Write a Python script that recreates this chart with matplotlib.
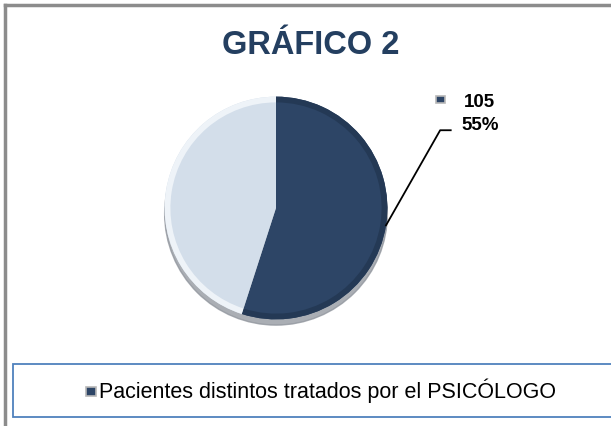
import numpy as np
import matplotlib
matplotlib.use("Agg")
import matplotlib.pyplot as plt
from matplotlib.patches import Rectangle, Circle
from matplotlib.lines import Line2D

# data
categories = ["Pacientes distintos tratados por el PSICÓLOGO", "Resto"]
values = [105, 86]
colors = ["#2d4566", "#d3deea"]
rim_colors = ["#243955", "#eef3f8"]
title = "GRÁFICO 2"

W, H = 611, 427
fig = plt.figure(figsize=(W / 100, H / 100), dpi=100)
fig.patch.set_facecolor("white")

def px(x, y):
    # pixel coords (top-left origin) -> figure fraction
    return x / W, 1 - y / H

# outer chart border (grey, top and left visible)
fig.add_artist(Line2D([5 / W, 1], [1 - 6 / H] * 2, transform=fig.transFigure,
                      color="#8c8c8c", lw=2.5))
fig.add_artist(Line2D([5 / W] * 2, [0, 1 - 6 / H], transform=fig.transFigure,
                      color="#8c8c8c", lw=2.5))

fig.text(*px(311, 45), title, ha="center", va="center", fontsize=23.5,
         fontweight="bold", color="#243f60", family="Liberation Sans")

# pie axes: centre (276, 209) px, 100 px per data unit
cx, cy = 276, 209
ax = fig.add_axes([(cx - 120) / W, (H - cy - 120) / H, 240 / W, 240 / H])
ax.set_xlim(-1.2, 1.2)
ax.set_ylim(-1.2, 1.2)
ax.set_aspect("equal")
ax.axis("off")

r = 1.16
ax.add_patch(Circle((0.0, -0.06), r, color="#8e939b", alpha=0.75, zorder=0))
wedges, _ = ax.pie(values, colors=colors, startangle=90, counterclock=False,
                   radius=r, wedgeprops=dict(linewidth=0))
# subtle rim shading
ax.pie(values, colors=rim_colors, startangle=90, counterclock=False, radius=r,
       wedgeprops=dict(width=0.06, linewidth=0))

# leader line and label for the first slice
w0 = wedges[0]
mid = np.deg2rad((w0.theta1 + w0.theta2) / 2)
p0 = (r * np.cos(mid), r * np.sin(mid))
elbow = ((447 - cx) / 100, (cy - 128) / 100)
end = ((458 - cx) / 100, (cy - 128) / 100)
ax.plot([p0[0], elbow[0], end[0]], [p0[1], elbow[1], end[1]], color="black",
        lw=1.3, clip_on=False, zorder=3)
pct = values[0] / sum(values) * 100
ax.text((504 - cx) / 100, (cy - 98) / 100, f"{values[0]}", ha="right", va="center",
        fontsize=13.5, fontweight="bold", family="Liberation Sans", clip_on=False)
ax.text((508 - cx) / 100, (cy - 122) / 100, f"{pct:.0f}%", ha="right", va="center",
        fontsize=13.5, fontweight="bold", family="Liberation Sans", clip_on=False)
ax.add_patch(Rectangle(((443 - cx) / 100, (cy - 100) / 100), 0.09, 0.08,
                       facecolor=colors[0], edgecolor="#b8b8b8", lw=1.2,
                       clip_on=False))

# legend box
fig.add_artist(Rectangle(px(13, 418), (W + 10) / W, 53 / H,
                         transform=fig.transFigure, facecolor="white",
                         edgecolor="#4f81bd", lw=1.3))
fig.add_artist(Rectangle(px(86, 397), 10 / W, 9 / H, transform=fig.transFigure,
                         facecolor=colors[0], edgecolor="#b8b8b8", lw=1.2))
fig.text(*px(99, 391), categories[0], ha="left", va="center", fontsize=15.5,
         family="Liberation Sans")

fig.savefig("out.png", dpi=100)
